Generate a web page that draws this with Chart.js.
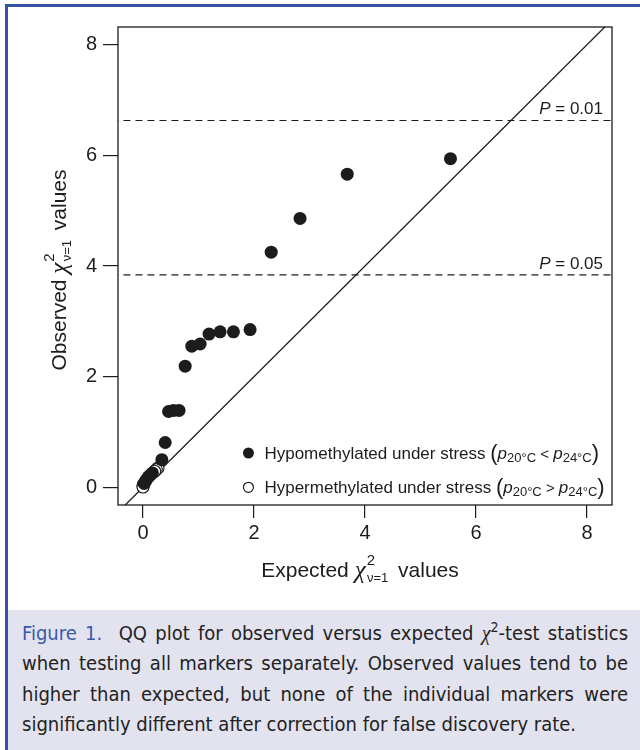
<!DOCTYPE html>
<html>
<head>
<meta charset="utf-8">
<script src="https://cdn.jsdelivr.net/npm/chart.js@4"></script>
<style>
  body { margin: 0; background: #fff; }
  #wrap { position: relative; width: 640px; height: 750px; overflow: hidden; }
  #topline { position: absolute; left: 6px; top: 4px; width: 640px; height: 3px; background: #3653a3; }
  #leftline { position: absolute; left: 5px; top: 4px; width: 3px; height: 750px; background: #3653a3; }
  #chart { position: absolute; left: 0; top: 0; }
  #caption {
    position: absolute; left: 8px; top: 610px; width: 632px; height: 140px;
    background: #e3e3ef; box-sizing: border-box; padding: 8px 12px 0 14px;
    font-family: "Liberation Sans Narrow", "DejaVu Sans Condensed", "Roboto", sans-serif;
    font-stretch: condensed;
    font-size: 20px; line-height: 30.3px; color: #222; text-align: justify;
  }
  #caption .fig { color: #3a5aa8; }
  #caption .chi { font-family: "Liberation Serif", serif; font-style: italic; }
</style>
</head>
<body>
<div id="wrap">
  <div id="topline"></div>
  <div id="leftline"></div>
  <canvas id="chart" width="640" height="600"></canvas>
  <div id="caption"><span class="fig">Figure 1.</span>&nbsp; QQ plot for observed versus expected <span class="chi">χ</span><sup style="font-size:14px;line-height:0">2</sup>-test statistics when testing all markers separately. Observed values tend to be higher than expected, but none of the individual markers were significantly different after correction for false discovery rate.</div>
</div>
<script>
// hypomethylated under stress (filled)
const hypoX = [5.54, 3.68, 2.83, 2.31, 1.93, 1.63, 1.39, 1.19, 1.03, 0.88, 0.76, 0.65, 0.55, 0.46, 0.40, 0.34,
               0.17, 0.13, 0.10, 0.07, 0.045, 0.02];
const hypoY = [5.94, 5.66, 4.86, 4.25, 2.85, 2.81, 2.81, 2.77, 2.59, 2.55, 2.19, 1.39, 1.39, 1.37, 0.81, 0.50,
               0.26, 0.22, 0.19, 0.15, 0.11, 0.07];
// hypermethylated under stress (open)
const hyperX = [0.27, 0.24, 0.21, 0.006, 0.002, 0.0005];
const hyperY = [0.35, 0.32, 0.29, 0.05, 0.025, 0.005];
// significance thresholds
const thresholds = [3.84, 6.63];
const thresholdLabels = ["0.05", "0.01"];
const tickVals = [0, 2, 4, 6, 8];

const INK = "#1c1c1c";
const FONT = '"Liberation Sans", Arial, Helvetica, sans-serif';
const GREEK = '"Liberation Serif", "DejaVu Serif", serif';

function toPts(xs, ys) {
    return xs.map((x, i) => ({ x: x, y: ys[i] }));
}

// draw a run of text pieces: [{t, size, italic, dy, noAdvance, family}]
function drawRuns(ctx, runs, x, y, align) {
    const fontOf = r => (r.italic ? "italic " : "") + r.size + "px " + (r.family || FONT);
    let total = 0;
    runs.forEach(r => {
        ctx.font = fontOf(r);
        r.w = ctx.measureText(r.t).width;
        if (!r.noAdvance) total += r.w;
    });
    let cx = align === "center" ? x - total / 2 : (align === "right" ? x - total : x);
    ctx.textBaseline = "alphabetic";
    ctx.textAlign = "left";
    runs.forEach(r => {
        ctx.font = fontOf(r);
        ctx.fillText(r.t, cx + (r.dx || 0), y + (r.dy || 0));
        if (!r.noAdvance) cx += r.w;
    });
}

function axisTitle(word1) {
    return [
        { t: word1 + " ", size: 21 },
        { t: "χ", size: 25, italic: true, family: GREEK, dy: 1 },
        { t: "2", size: 15, dy: -12, dx: 1, noAdvance: true },
        { t: " ", size: 5 },
        { t: "ν=1", size: 13, dy: 5 },
        { t: " ", size: 14 },
        { t: " values", size: 21 }
    ];
}

const decorations = {
    id: "decorations",
    afterDatasetsDraw(chart) {
        const ctx = chart.ctx;
        const a = chart.chartArea;
        const xs = chart.scales.x, ys = chart.scales.y;
        ctx.save();
        ctx.strokeStyle = INK;
        ctx.lineWidth = 1.3;
        ctx.strokeRect(a.left, a.top, a.right - a.left, a.bottom - a.top);
        ctx.fillStyle = INK;

        // threshold labels
        thresholds.forEach((t, i) => {
            const py = ys.getPixelForValue(t) - 6;
            drawRuns(ctx, [
                { t: "P", size: 17, italic: true },
                { t: " = " + thresholdLabels[i], size: 17 }
            ], a.right - 9, py, "right");
        });

        // legend
        const lx = xs.getPixelForValue(1.9);
        const rows = [
            { y: ys.getPixelForValue(0.62), filled: true, sign: "<", word: "Hypomethylated" },
            { y: ys.getPixelForValue(0.0), filled: false, sign: ">", word: "Hypermethylated" }
        ];
        rows.forEach(r => {
            ctx.beginPath();
            ctx.arc(lx, r.y, r.filled ? 5.5 : 5, 0, Math.PI * 2);
            if (r.filled) { ctx.fillStyle = INK; ctx.fill(); }
            else { ctx.fillStyle = "#fff"; ctx.fill(); ctx.lineWidth = 1.2; ctx.stroke(); }
            ctx.fillStyle = INK;
            drawRuns(ctx, [
                { t: r.word + " under stress ", size: 17 },
                { t: "(", size: 22, dy: 1 },
                { t: "p", size: 17, italic: true },
                { t: "20°C", size: 13, dy: 3 },
                { t: " " + r.sign + " ", size: 15 },
                { t: "p", size: 17, italic: true },
                { t: "24°C", size: 13, dy: 3 },
                { t: ")", size: 22, dy: 1 }
            ], lx + 16, r.y + 6, "left");
        });

        // axis titles
        drawRuns(ctx, axisTitle("Expected"), 360, 577, "center");
        ctx.translate(66, 270);
        ctx.rotate(-Math.PI / 2);
        drawRuns(ctx, axisTitle("Observed"), 0, 0, "center");
        ctx.restore();
    }
};

const ctx = document.getElementById("chart").getContext("2d");
new Chart(ctx, {
    type: "scatter",
    data: {
        datasets: [
            {
                label: "Hypomethylated under stress",
                data: toPts(hypoX, hypoY),
                pointRadius: 6.5,
                pointBackgroundColor: INK,
                pointBorderWidth: 0,
                order: 0
            },
            {
                label: "Hypermethylated under stress",
                data: toPts(hyperX, hyperY),
                pointRadius: 6,
                pointBackgroundColor: "#fff",
                pointBorderColor: INK,
                pointBorderWidth: 1.1,
                order: 1
            },
            {
                type: "line",
                label: "y = x",
                data: [{ x: -1, y: -1 }, { x: 9, y: 9 }],
                borderColor: INK,
                borderWidth: 1.3,
                pointRadius: 0,
                order: 2
            },
            ...thresholds.map(t => ({
                type: "line",
                label: "threshold",
                data: [{ x: -1, y: t }, { x: 9, y: t }],
                borderColor: INK,
                borderWidth: 1.2,
                borderDash: [7, 5],
                pointRadius: 0,
                order: 3
            }))
        ]
    },
    options: {
        responsive: false,
        animation: false,
        devicePixelRatio: 1,
        layout: { padding: { top: 27, right: 28, left: 0, bottom: 0 } },
        plugins: { legend: { display: false }, tooltip: { enabled: false } },
        scales: {
            x: {
                type: "linear",
                min: -0.45,
                max: 8.45,
                afterBuildTicks: axis => { axis.ticks = tickVals.map(v => ({ value: v })); },
                afterFit: scale => { scale.height = 95; },
                grid: { drawOnChartArea: false, drawTicks: true, tickLength: 13, color: INK, lineWidth: 1.2 },
                border: { display: false },
                ticks: { color: INK, padding: 3, font: { family: FONT, size: 20 } }
            },
            y: {
                type: "linear",
                min: -0.32,
                max: 8.32,
                afterBuildTicks: axis => { axis.ticks = tickVals.map(v => ({ value: v })); },
                afterFit: scale => { scale.width = 118; },
                grid: { drawOnChartArea: false, drawTicks: true, tickLength: 15, color: INK, lineWidth: 1.2 },
                border: { display: false },
                ticks: { color: INK, padding: 6, font: { family: FONT, size: 20 } }
            }
        }
    },
    plugins: [decorations]
});
</script>
</body>
</html>
